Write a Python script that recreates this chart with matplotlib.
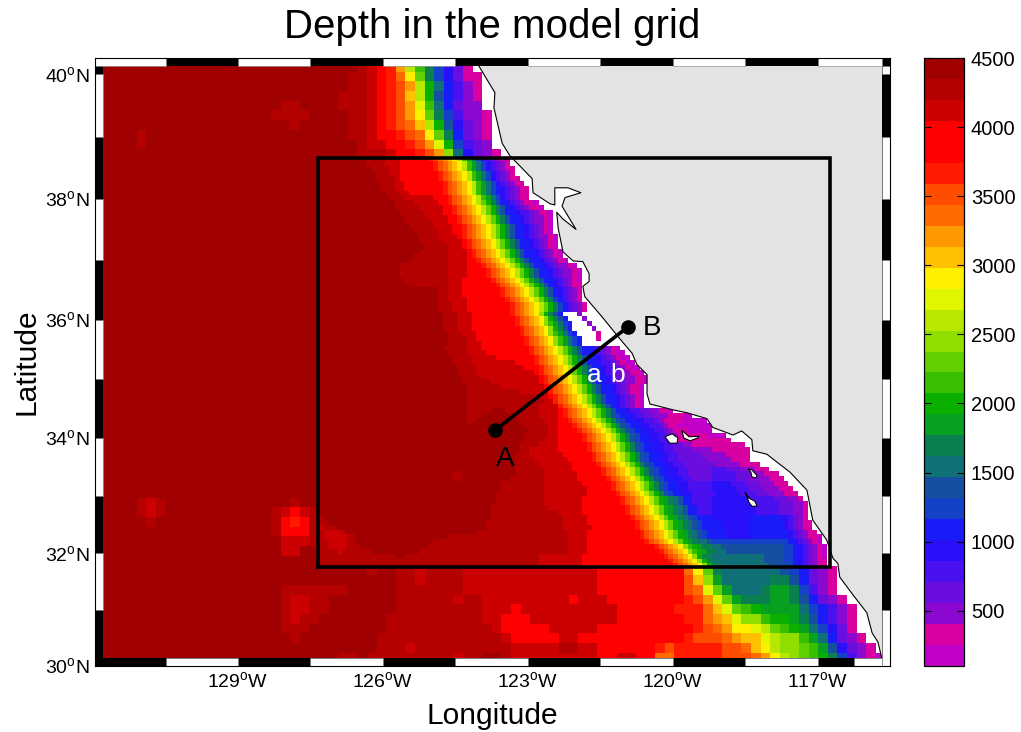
import re

import matplotlib
matplotlib.use("Agg")
import matplotlib.pyplot as plt
import numpy as np
from matplotlib.colors import BoundaryNorm, ListedColormap
from matplotlib.patches import Polygon, Rectangle
from matplotlib.transforms import blended_transform_factory

plt.rcParams["font.family"] = ["Liberation Sans", "DejaVu Sans"]
plt.rcParams["mathtext.fontset"] = "custom"
plt.rcParams["mathtext.rm"] = "Liberation Sans"

# one letter per colour band, deepest first
LEVEL_CHARS = "abcdefghijklmnopqrstuvwxyzABC"
LEVEL_COLORS = [
    "#a00000", "#b50000", "#cc0000", "#ff0000", "#ff0000", "#ff1a00", "#ff4d00", "#ff6a00",
    "#ff9900", "#ffc000", "#fff000", "#e0f500", "#b8e800", "#90dd00", "#60d000", "#38c000",
    "#0ab000", "#08a020", "#0a8050", "#0f7078", "#1550a0", "#1540c8", "#1a1cf8", "#2a10f8",
    "#4a10f0", "#6a0ee0", "#8a08d0", "#d800a0", "#c000c8",
]
DEPTH_MIN = 100
DEPTH_MAX = 4500
CBAR_TICKS = [500, 1000, 1500, 2000, 2500, 3000, 3500, 4000, 4500]

# depth, run-length coded per row from the north-west corner
COARSE_ROWS = [
    "a27bcdfimpsvxzB", "a26b2cdfhkosvxzB2", "a26b2cdfgimqtwyAB", "a25b3cdfgjmquwyAB",
    "a19b2a4b3cdfgilptwzA2", "a18b4a4b2cdfgikosvyA2B", "a20ba5b2cdfghjmquxzAB",
    "a4ba21b2cdefghkoswzAB", "a4ba22bc2defgilqvyzA", "a27b3cd2fgintxzAB",
] + ["a23"] * 35 + [
    "a4bcba13ba2", "a4bcba11bcdcb", "a5ba12bdfdb", "a18bd3b", "a19c3b", "a19c2a2", "a23",
    "a28ba2b2cb4c14d9hkost6uvwzAB",
    "a31b2cb4c14d9gjnrt5s2uwzAB",
    "a19b7a5b7c14d9ghlort3sr2svyAB",
    "a19bc2b2a7b6cb2c9dc3d8fgilors3r2suwzAB",
    "a19bc2b2a7b9c3dc10d6f3hjlopqr4tvwyAB",
    "a19bcb2a7b10c2d3c9d7f2hijln2pq2rsuwyAB",
    "a19b3a8b11cd5c5d10fghik2lmopqrtvxzB",
    "a20ba8b13cd5c2d11fg3hij2lmn2prtwzAB",
    "a29b3cb10c5b2c2d6fgf5g2hjkmn2opruxzAB",
    "a25b2ab9cb2a2bc9d2c2d2h2f5g3hikmnopqsvyABC",
]

FINE_ROWS = [
    "a10b4c3d6fghijkmprtvxyzAB2", "a10b4c3d7fghijkmprtvxyzAB", "a11b4c2d7fghijkmprtvxyzAB2",
    "a12b3c2d8fghijkmprtvxyzAB", "a12b4cd8fghijkmprtvxyzAB2", "a13b3c2d8fghijkmprtvxyzAB2",
    "a13b3c2d8fghijkmprtvwxyzAB2", "a14b3c2d7fghijkmprtvwxyzAB2", "a15b3c6d3fghijkmprtvxyzAB2",
    "a16b4c5d2fghijkmoqsuwxyzAB2C", "a16b5c5d2fghijkmoqsuwxyzAB2C", "a17b5c4d2fghijkmoqsuw2xy2zAB2C",
    "a18b5c4d2fghijkmoqsuw2xyzA2BC", "a18b6c3d2fghijkmoqsuw2xyzA2BC", "a19b5c4d2fghijkmoqsuw2xyzABC",
    "a20b5c3d2fghijkmoqsuw2xyzABC", "a21b4c4dfghijkmoqsuw2xyzA2BC", "a21b5c4dfghijkmoqsuw2xyzABC",
    "a22b5c3dfghijkmoqsuw2xyzABC", "a21b6c4dfghijkmoqsuw2xyzABC", "a20b7c4dfghijkmoqsuw2xyzABC",
    "a19b8c4d2fghijkmoqsuw2xyzABC", "a17b10c4d3fghijkmoqsuw2xyzA2BC", "a17b10c4d4fghijkmoqsuw2xyzA2BC",
    "a17b10c4d4fghijkmoqsuw2xyzA2BC", "a18b9c3d6fghijkmoqsuw2xyzABC", "a19b8c3d7fghijkmoqsuwxyzAB2",
    "a25b2c3d8fghijkmoqsuwxyzAB", "a25b2c3d8fghijkmoqsuwxyzAB", "a25b2c4d8fghijkmoqsvwyzAB",
    "a25b3c3d9fghijkmoqsvwyzAB", "a25b3c3d9fghijkmoqsvwyzAB",
    "a26b3c3d8fghijknqsuw.3A", "a26b3c3d9fghijknqsuw.3A", "a26b3c3d9fghijknprtvw.3A",
    "a26b3c3d10fghijknqsuw.4A", "a27b3c3d9fghijknprtvw.4B", "a27b4c2d10fghijknprtvw.3B",
    "a27b4c3d9fghijknprtvw",
    "a26b5c3d10fghijkmoqsuw2xyzABC", "a27b4c4d9fghijkmoqsuw2xyzABC2", "a28b4c5d8fghijkmoqsuw2xyzABC2",
    "a28b4c9d4fghijkmoqsuw2xy2zABC2", "a29b4c10d3fghijkmoqsuw2xy2zABC2", "a29b4c12dfghijkmoqsuw2xyz2A2B2C",
    "a30b4c12dfghijkmoqsuw2xyz2A2B2C", "a30b6c10dfghijkmoqsuw2xyz2A2B2C", "a31b7c9dfghijkmoqsuw2xyzAB2C",
    "a31b11c6fghijkmoqsuw2xyzAB2C", "a31b14c3dfghijkmoqsuw2xyzABC", "a31b16c2fghijkmoqsuw2xyzABC",
    "a31b15c4fghijkmoqsuwxyzABC",
    "a31b5a3b7c4dfghijkmoqsuw2xy2z2A2B2C", "a31b3a6b6c4dfghijkmoqsuvw2xy2z2A3B3C2",
    "a31b2a9b5c3d2fghijkmoqsuvw2x2y2zAB4C5", "a43b5c2d3fghijkmoqsuvw2x2y2zAB2C7",
    "a44b4c2d4fghijkmoqsuvw2x2y2zAB3C5", "a43b5c2d5fghijkmoqsuvw2x2y2zAB6C4",
    "a43b4c3d5fghijkmoqsuvw2x2y2zAB11", "a42b4c4d6fghijkmoqsuvw2x2y2z2A2B11",
    "a42b2c6d6fghijkmoqsuvw2x2y2z4A4B8", "a41b3c7d6fghijkmoqsuvw2x2y2z5A5B5",
    "a41b4c7d5fghijkmoqsuvw2x2y2z6A5B4", "a41b5c7d5fghijkmoqsuvw2x2y2z7A5B4",
    "a41b6c6d6fghijkmoqsuvw2x2y2z5y3z3A3B3", "a28b2a11b6c7d5fghijkmoqsuvw2x2y2z5y5z3A3B3",
    "a28b2a10b7c7d6fghijkmoqsuvw2x2y2z4y5z3A4B3", "a38b9c8d6fghijkmoqsuvw2x2y5x4y3z3A3B3",
    "a38b9c9d5fghijkmoqsuvw2x2y5x5y3z3A3B3", "a37b10c9d6fghijkmoqsuvw2x2y5x5y3z3A3B3",
    "a37b10c8d8fghijkmoqrstuw2y4x8y5z3A2B", "a37b10c8d8fghijkmoqrstuw2y4x9y5z3A2B",
    "a36b12c7d9fghijkmoqrstuw2y3x9y5z3A2B", "a36b14c5d9fghijkmoqrstuw2y3x9y5z3A2B",
    "ba35b15c5d9fghijkmoqrstuvw3x8w6x2yzAB", "b2a33b16c5d10fghijkmoqrstuvw4x6w7xyzAB2",
    "cb3a31b16c6d9fghijkmoqrstuvw4x6w7xyzAB2", "bc4ba27b19c4d11fghijkmoqrstuvw4x5w8xyzAB2",
    "bc5b2a19b25c4d11fghijkmoqrstuvw4x5w8xyzAB2C", "b2c4b2a16b28c4d12fghijkmoqrst2uv16wxyzABC",
    "b2c4b3a14b29c4d14fghijknpqrs2t2u13v2wxyzABC", "b4cb6a10b31c4d15fghijknpqrs2t2u12v2wxyzABC",
    "b16a2b28c9d17fghijknqs2t11u4v2wxyzABC", "b46c9d18fghijknqs2t10u4v2wxyzAB2",
    "b46c9d19fghijknqs2t10u4vwxyzAB2",
]

COAST_LON = [-124.01, -123.68, -123.70, -123.53, -123.37, -122.91, -122.89, -122.54, -122.44, -122.44,
             -122.17, -121.90, -122.23, -122.29, -122.00, -122.27, -122.40, -122.37, -122.27, -122.06,
             -121.86, -121.73, -121.73, -121.86, -121.82, -121.44, -121.09, -120.84, -120.74, -120.53,
             -120.53, -120.47, -119.99, -119.70, -119.29, -119.17, -118.75, -118.57, -118.36, -118.34,
             -118.05, -117.57, -117.22, -117.10, -116.81, -116.68, -116.58, -116.54, -116.27, -115.98,
             -115.87, -115.75, -115.67]
COAST_LAT = [40.13, 39.71, 39.47, 38.90, 38.70, 38.33, 38.10, 37.92, 37.90, 38.18,
             38.18, 38.10, 38.02, 37.88, 37.50, 37.67, 37.78, 37.52, 37.13, 36.98,
             36.97, 36.77, 36.64, 36.56, 36.39, 36.03, 35.68, 35.44, 35.25, 35.08,
             34.75, 34.58, 34.48, 34.43, 34.33, 34.18, 34.05, 34.12, 33.97, 33.78,
             33.72, 33.41, 33.10, 32.58, 32.23, 31.91, 31.82, 31.58, 31.27, 30.95,
             30.59, 30.43, 30.14]

ISLANDS = [
    ([-120.16, -120.01, -119.89, -119.91, -120.06], [34.02, 34.07, 34.00, 33.91, 33.91]),
    ([-119.81, -119.66, -119.46, -119.48, -119.64, -119.77], [34.13, 34.02, 34.03, 34.00, 33.95, 34.00]),
    ([-118.44, -118.36, -118.25, -118.28, -118.36, -118.38], [33.47, 33.45, 33.35, 33.31, 33.33, 33.41]),
    ([-118.50, -118.42, -118.30, -118.25, -118.36, -118.42], [33.07, 32.96, 32.91, 32.82, 32.82, 32.89]),
]

BOX_LON = [-127.344, -116.74]
BOX_LAT = [31.75, 38.67]
SECTION_LON = [-123.68, -120.93]
SECTION_LAT = [34.13, 35.88]

LON_TICKS = [-129, -126, -123, -120, -117]
LAT_TICKS = [30, 32, 34, 36, 38, 40]

# white pieces of the map frame
BOTTOM_WHITE = [(-130.5, -129), (-127.5, -126), (-124.5, -123), (-121.5, -120), (-118.5, -117), (-116.25, -115.67)]
TOP_WHITE = [(-132, -130.5), (-129, -127.5), (-126, -124.5), (-123, -121.5), (-120, -118.5), (-117, -115.67)]
LEFT_WHITE = [(31, 32), (33, 34), (35, 36), (37, 38), (39, 40)]
RIGHT_WHITE = [(30, 31), (32, 33), (34, 35), (36, 37), (38, 39), (40, 40.13)]

LON_W, LON_E = -131.96, -115.5
LAT_S, LAT_N = 30.0, 40.26
PX_PER_DEG = 48.3


def merc(lat):
    lat = np.asarray(lat, dtype=float)
    return np.degrees(np.log(np.tan(np.radians(45 + lat / 2))))


def inv_merc(y):
    y = np.asarray(y, dtype=float)
    return 2 * np.degrees(np.arctan(np.exp(np.radians(y)))) - 90


def decode(rows, ncols):
    bounds = np.linspace(DEPTH_MAX, DEPTH_MIN, len(LEVEL_CHARS) + 1)
    centers = (bounds[:-1] + bounds[1:]) / 2
    grid = np.full((len(rows), ncols), np.nan)
    for i, row in enumerate(rows):
        col = 0
        for char, count in re.findall(r"([a-zA-C.])(\d*)", row):
            count = int(count) if count else 1
            if char != ".":
                grid[i, col:col + count] = centers[LEVEL_CHARS.index(char)]
            col += count
    return grid


def cell_edges(x0_px, y0_px, dx_px, dy_px, ncols, nrows):
    lon = -129 + (x0_px + dx_px * np.arange(ncols + 1) - 238) / PX_PER_DEG
    yy = merc(30) + (666 - (y0_px + dy_px * np.arange(nrows + 1))) / PX_PER_DEG
    return lon, inv_merc(yy)


fig = plt.figure(figsize=(10.21, 7.32), dpi=100)
ax = fig.add_axes([95 / 1021, 66 / 732, 795 / 1021, 608 / 732])
ax.set_yscale("function", functions=(merc, inv_merc))
ax.set_xlim(LON_W, LON_E)
ax.set_ylim(LAT_S, LAT_N)
ax.set_facecolor("white")

cmap = ListedColormap(LEVEL_COLORS[::-1])
cmap.set_bad((1, 1, 1, 0))
norm = BoundaryNorm(np.linspace(DEPTH_MIN, DEPTH_MAX, len(LEVEL_CHARS) + 1), cmap.N)

coarse = decode(COARSE_ROWS, 82)
lon_c, lat_c = cell_edges(98.2, 62.5, 9.6, 9.675, 82, len(COARSE_ROWS))
mesh = ax.pcolormesh(lon_c, lat_c, coarse, cmap=cmap, norm=norm, zorder=1, antialiased=False)

fine = decode(FINE_ROWS, 107)
lon_f, lat_f = cell_edges(318, 157, 4.8, 4.84, 107, len(FINE_ROWS))
ax.pcolormesh(lon_f, lat_f, fine, cmap=cmap, norm=norm, zorder=2, antialiased=False)

# land and coast
land_x = COAST_LON + [LON_E, LON_E, COAST_LON[0]]
land_y = COAST_LAT + [LAT_S, LAT_N, LAT_N]
ax.add_patch(Polygon(np.column_stack([land_x, land_y]), closed=True, fc="#e3e3e3", ec="none", zorder=3))
ax.plot(COAST_LON, COAST_LAT, color="black", lw=0.8, zorder=4)
for isl_lon, isl_lat in ISLANDS:
    ax.add_patch(Polygon(np.column_stack([isl_lon, isl_lat]), closed=True, fc="white", ec="black", lw=0.8, zorder=4))

# nested domain and section line
ax.plot([BOX_LON[0], BOX_LON[1], BOX_LON[1], BOX_LON[0], BOX_LON[0]],
        [BOX_LAT[0], BOX_LAT[0], BOX_LAT[1], BOX_LAT[1], BOX_LAT[0]],
        color="black", lw=2.6, zorder=5, solid_joinstyle="miter")
ax.plot(SECTION_LON, SECTION_LAT, color="black", lw=2.6, marker="o", ms=9.5, zorder=6)
ax.text(-123.47, 33.64, "A", fontsize=20, ha="center", va="center", zorder=8)
ax.text(-120.43, 35.87, "B", fontsize=20, ha="center", va="center", zorder=8)
ax.text(-121.63, 35.07, "a", fontsize=19, color="white", ha="center", va="center", zorder=8)
ax.text(-121.13, 35.07, "b", fontsize=19, color="white", ha="center", va="center", zorder=8)

# fancy frame
band_x = 8 / 795
band_y = 8 / 608
x_trans = blended_transform_factory(ax.transData, ax.transAxes)
y_trans = blended_transform_factory(ax.transAxes, ax.transData)
for x0, y0, w, h in [(0, 0, 1, band_y), (0, 1 - band_y, 1, band_y), (0, 0, band_x, 1), (1 - band_x, 0, band_x, 1)]:
    ax.add_patch(Rectangle((x0, y0), w, h, transform=ax.transAxes, fc="black", ec="none", zorder=7))
for a, b in BOTTOM_WHITE:
    ax.add_patch(Rectangle((a, 0), b - a, band_y, transform=x_trans, fc="white", ec="#777777", lw=0.4, zorder=7.1))
for a, b in TOP_WHITE:
    ax.add_patch(Rectangle((a, 1 - band_y), b - a, band_y, transform=x_trans, fc="white", ec="#777777", lw=0.4, zorder=7.1))
for a, b in LEFT_WHITE:
    ax.add_patch(Rectangle((0, a), band_x, b - a, transform=y_trans, fc="white", ec="#777777", lw=0.4, zorder=7.1))
for a, b in RIGHT_WHITE:
    ax.add_patch(Rectangle((1 - band_x, a), band_x, b - a, transform=y_trans, fc="white", ec="#777777", lw=0.4, zorder=7.1))

ax.set_xticks(LON_TICKS)
ax.set_xticklabels(["%d$^{\\mathrm{o}}$W" % abs(v) for v in LON_TICKS])
ax.set_yticks(LAT_TICKS)
ax.set_yticklabels(["%d$^{\\mathrm{o}}$N" % v for v in LAT_TICKS])
ax.minorticks_off()
ax.tick_params(length=0, labelsize=14, pad=4)
for spine in ax.spines.values():
    spine.set_linewidth(0.8)
    spine.set_zorder(9)

ax.set_xlabel("Longitude", fontsize=21.5, labelpad=7)
ax.set_ylabel("Latitude", fontsize=21.5, labelpad=3)
fig.text(492 / 1021, 1 - 27 / 732, "Depth in the model grid", fontsize=29, ha="center", va="center")

cax = fig.add_axes([924 / 1021, 66 / 732, 40 / 1021, 608 / 732])
cbar = fig.colorbar(mesh, cax=cax, ticks=CBAR_TICKS, spacing="proportional")
cbar.ax.minorticks_off()
cbar.ax.tick_params(direction="in", length=5, width=0.8, left=True, right=True, labelsize=14.5, pad=5)
cbar.outline.set_linewidth(0.9)

fig.savefig("out.png", dpi=100)
